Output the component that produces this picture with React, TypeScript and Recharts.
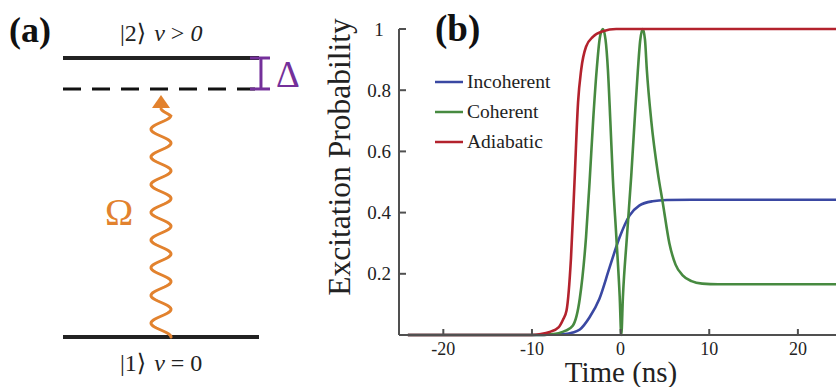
import React from "react";
import { LineChart, Line, XAxis, YAxis, Legend, ReferenceLine } from "recharts";

// panel (b): excitation probability vs time (ns)
const incoherentTime = [-24, -9, -8, -7, -6, -5.4, -4.6, -3.5, -2.4, -1.25, -0.1, 1.0, 2.1, 3.6, 5.2, 8, 24.3];
const incoherentProb = [0, 0, 0.001, 0.002, 0.004, 0.008, 0.018, 0.058, 0.118, 0.22, 0.32, 0.39, 0.423, 0.437, 0.441, 0.442, 0.442];

const coherentTime = [-24, -9, -8, -7, -6.2, -5.4, -4.6, -3.9, -3.5, -3.1, -2.7, -2.35, -2.0, -1.7, -1.43, -1.16, -0.87, -0.48, -0.1, 0.08, 0.26, 0.71, 1.2, 1.58, 1.95, 2.2, 2.5, 2.75, 2.96, 3.46, 4.2, 4.77, 5.5, 6.2, 7.0, 8.0, 9.2, 11, 24.3];
const coherentProb = [0, 0, 0.002, 0.006, 0.014, 0.03, 0.12, 0.32, 0.5, 0.7, 0.866, 0.97, 1.0, 0.965, 0.866, 0.7, 0.51, 0.32, 0.124, 0, 0.124, 0.32, 0.52, 0.7, 0.866, 0.96, 1.0, 0.965, 0.866, 0.7, 0.53, 0.43, 0.3, 0.23, 0.195, 0.176, 0.168, 0.166, 0.166];

const adiabaticTime = [-24, -10, -9, -8, -7, -6.5, -6.1, -5.6, -5.2, -4.8, -4.45, -3.9, -3.1, -2.0, -0.5, 24.3];
const adiabaticProb = [0, 0, 0.003, 0.01, 0.025, 0.05, 0.08, 0.25, 0.5, 0.76, 0.866, 0.942, 0.975, 0.993, 1, 1];

const xTicks = [-20, -10, 0, 10, 20];
const yTicks = [0.2, 0.4, 0.6, 0.8, 1];

// panel (a): level diagram, energies in units of the |1>-|2> gap
const levelNames = ["|1⟩", "|2⟩"];
const levelEnergies = [0, 1];
const detuning = 0.111;

const toPoints = (ts: number[], ps: number[]) => ts.map((t, i) => ({ t, p: ps[i] }));

const series = [
  { name: "Incoherent", color: "#3a48a2", data: toPoints(incoherentTime, incoherentProb) },
  { name: "Coherent", color: "#478a40", data: toPoints(coherentTime, coherentProb) },
  { name: "Adiabatic", color: "#b3222d", data: toPoints(adiabaticTime, adiabaticProb) },
];

const levels = levelNames.map((name, i) => ({ name, x: i, e: levelEnergies[i] }));

const FONT = "'Liberation Serif', 'Times New Roman', 'DejaVu Serif', serif";
const AXIS = "#505050";
const ORANGE = "#e2822e";
const PURPLE = "#74309a";
const INK = "#222";

const XTick = (props: any) => {
  const { x, y, payload } = props;
  return (
    <g>
      <line x1={x} x2={x} y1={y - 20} y2={y - 26} stroke={AXIS} strokeWidth={2} />
      <text x={x} y={y} textAnchor="middle" fontSize={18} fill={INK} fontFamily={FONT}>
        {String(payload.value)}
      </text>
    </g>
  );
};

const YTick = (props: any) => {
  const { x, y, payload } = props;
  const v = payload.value as number;
  return (
    <g>
      <line x1={x + 20} x2={x + 27} y1={y} y2={y} stroke={AXIS} strokeWidth={2} />
      <text x={x} y={y} textAnchor="middle" dominantBaseline="central" fontSize={19} fill={INK} fontFamily={FONT}>
        {v === 1 ? "1" : v.toFixed(1)}
      </text>
    </g>
  );
};

const LegendBox = () => (
  <div style={{ fontFamily: FONT, fontSize: 19.5, color: INK }}>
    {series.map((s) => (
      <div key={s.name} style={{ display: "flex", alignItems: "center", height: 30 }}>
        <svg width={32} height={6}>
          <line x1={2} x2={30} y1={3} y2={3} stroke={s.color} strokeWidth={2.5} />
        </svg>
        <span style={{ marginLeft: 2 }}>{s.name}</span>
      </div>
    ))}
  </div>
);

// wavy photon arrow from (x1,y1) up to the tip (x2,y2)
const WaveArrow = (props: any) => {
  const { x1, y1, x2, y2 } = props;
  const head = 13;
  const amp = 10;
  const lambda = 27.7;
  const baseY = y2 + head;
  const len = y1 - baseY;
  let d = "";
  for (let s = 0; s <= len; s += 1) {
    const fade = Math.min(1, (len - s) / 8);
    const px = x1 + amp * fade * Math.cos((2 * Math.PI * s) / lambda);
    d += (s === 0 ? "M" : "L") + px.toFixed(2) + "," + (y1 - s).toFixed(2);
  }
  return (
    <g>
      <path d={d} fill="none" stroke={ORANGE} strokeWidth={3} strokeLinecap="round" />
      <polygon points={`${x2},${y2} ${x2 - 9},${baseY} ${x2 + 9},${baseY}`} fill={ORANGE} />
    </g>
  );
};

export default function App() {
  const ground = levelEnergies[0];
  const excited = levelEnergies[1];
  const virtual = excited - detuning;
  return (
    <div style={{ position: "absolute", left: 0, top: 0, width: 837, height: 387, background: "#fff", fontFamily: FONT }}>
      <div style={{ position: "absolute", left: 0, top: 0 }}>
        <LineChart width={320} height={387} data={levels} margin={{ top: 58, right: 61, bottom: 50, left: 63 }}>
          <XAxis type="number" dataKey="x" domain={[0, 1]} hide />
          <YAxis type="number" domain={[0, 1]} hide />
          <Line dataKey="e" stroke="none" dot={false} activeDot={false} isAnimationActive={false} />
          <ReferenceLine segment={[{ x: 0, y: ground }, { x: 1, y: ground }]} stroke={INK} strokeWidth={4} ifOverflow="visible" />
          <ReferenceLine segment={[{ x: 0, y: excited }, { x: 1, y: excited }]} stroke={INK} strokeWidth={4} ifOverflow="visible" />
          <ReferenceLine segment={[{ x: 0, y: virtual }, { x: 1, y: virtual }]} stroke="#111" strokeWidth={3} strokeDasharray="18 11" ifOverflow="visible" />
          <ReferenceLine segment={[{ x: 1.01, y: virtual }, { x: 1.01, y: excited }]} stroke={PURPLE} strokeWidth={3} ifOverflow="visible" />
          <ReferenceLine segment={[{ x: 0.954, y: excited }, { x: 1.056, y: excited }]} stroke={PURPLE} strokeWidth={3} ifOverflow="visible" />
          <ReferenceLine segment={[{ x: 0.954, y: virtual }, { x: 1.056, y: virtual }]} stroke={PURPLE} strokeWidth={3} ifOverflow="visible" />
          <ReferenceLine segment={[{ x: 0.5, y: ground }, { x: 0.5, y: virtual - 0.022 }]} ifOverflow="visible" shape={WaveArrow} />
        </LineChart>
      </div>

      <div style={{ position: "absolute", left: 0, top: 0 }}>
        <LineChart width={837} height={387} margin={{ top: 29, right: 1, bottom: 0, left: 339 }}>
          <XAxis
            type="number"
            dataKey="t"
            domain={[-25, 24.3]}
            allowDataOverflow
            ticks={xTicks}
            height={52}
            tickSize={0}
            tickMargin={20}
            tickLine={false}
            axisLine={{ stroke: AXIS, strokeWidth: 2 }}
            tick={XTick}
          />
          <YAxis
            type="number"
            domain={[0, 1]}
            ticks={yTicks}
            width={60}
            tickSize={0}
            tickMargin={20}
            tickLine={false}
            axisLine={{ stroke: AXIS, strokeWidth: 2 }}
            tick={YTick}
          />
          <Legend
            layout="vertical"
            align="center"
            verticalAlign="middle"
            content={LegendBox}
            wrapperStyle={{ left: 433, top: 67, width: "auto" }}
          />
          {series.map((s) => (
            <Line
              key={s.name}
              name={s.name}
              data={s.data}
              dataKey="p"
              type="monotone"
              stroke={s.color}
              strokeWidth={2.6}
              dot={false}
              isAnimationActive={false}
            />
          ))}
        </LineChart>
      </div>

      <svg width={837} height={387} style={{ position: "absolute", left: 0, top: 0, pointerEvents: "none" }} fontFamily={FONT}>
        <text x={9} y={42} fontSize={36} fontWeight="bold" fill="#111">(a)</text>
        <text x={435} y={41} fontSize={37} fontWeight="bold" fill="#111">(b)</text>
        <text x={120} y={41} fontSize={24} fill={INK}>
          <tspan>{levelNames[1]}</tspan>
          <tspan dx={8} fontStyle="italic">v</tspan>
          <tspan> &gt; </tspan>
          <tspan fontStyle="italic">0</tspan>
        </text>
        <text x={120} y={371} fontSize={24} fill={INK}>
          <tspan>{levelNames[0]}</tspan>
          <tspan dx={8} fontStyle="italic">v</tspan>
          <tspan> = 0</tspan>
        </text>
        <text x={105} y={225} fontSize={38} fill={ORANGE}>Ω</text>
        <text x={276} y={87} fontSize={37} fill={PURPLE}>Δ</text>
        <text x={621} y={381.5} fontSize={29} textAnchor="middle" fill={INK}>Time (ns)</text>
        <text x={350} y={157} fontSize={31.5} textAnchor="middle" fill={INK} transform="rotate(-90 350 157)">
          Excitation Probability
        </text>
      </svg>
    </div>
  );
}
